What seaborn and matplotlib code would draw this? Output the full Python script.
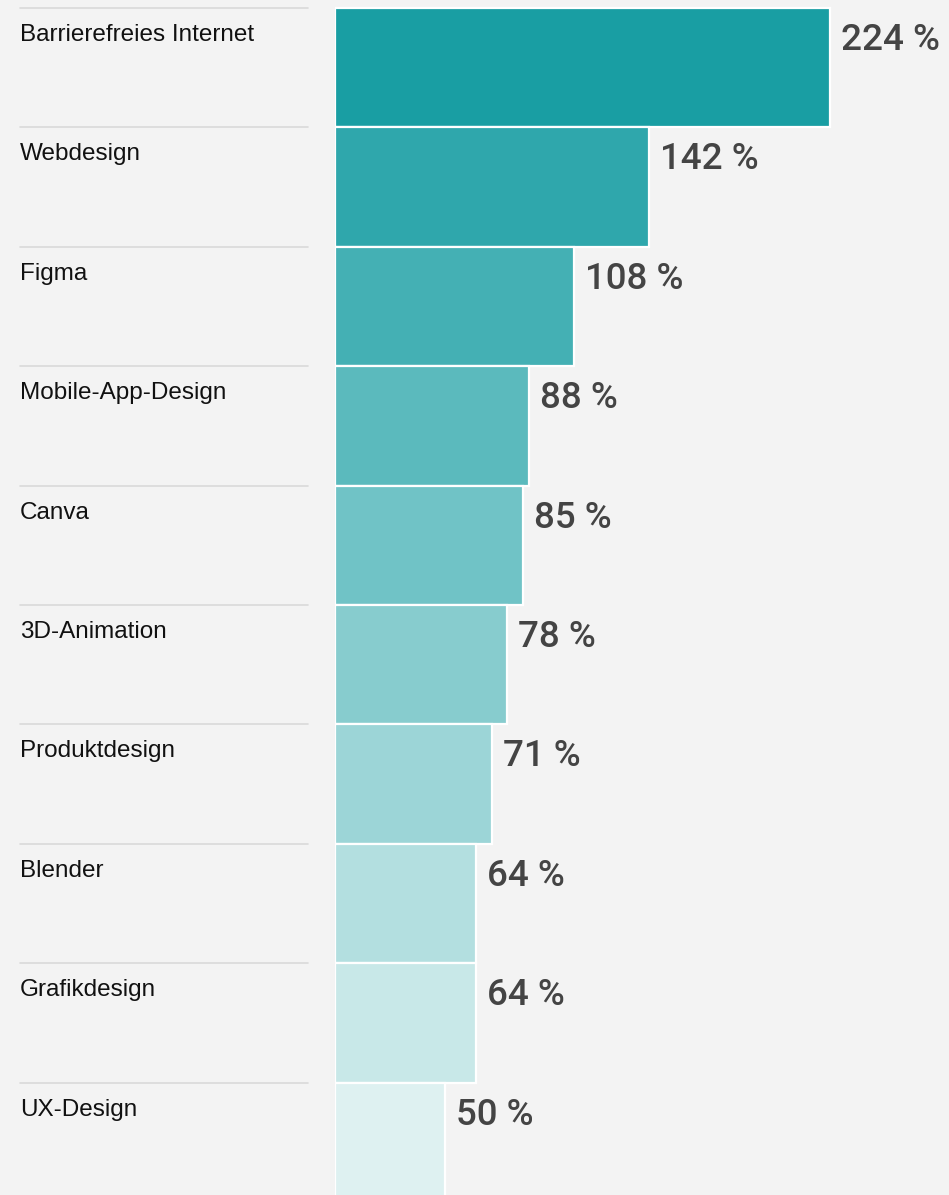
import matplotlib
matplotlib.use("Agg")
import matplotlib.pyplot as plt
import matplotlib.transforms as mtransforms
import seaborn as sns

labels = ["Barrierefreies Internet", "Webdesign", "Figma", "Mobile-App-Design",
          "Canva", "3D-Animation", "Produktdesign", "Blender", "Grafikdesign",
          "UX-Design"]
values = [224, 142, 108, 88, 85, 78, 71, 64, 64, 50]
value_text = [f"{v} %" for v in values]

bg = "#f3f3f3"
colors = sns.blend_palette(["#199ea3", "#def1f1"], n_colors=len(values))

sns.set_style("white")
plt.rcParams["font.family"] = ["Liberation Sans", "DejaVu Sans"]

W, H = 949, 1195
fig = plt.figure(figsize=(W / 100, H / 100), dpi=100, facecolor=bg)
ax = fig.add_axes([335 / W, 0, (W - 335) / W, 1])
ax.set_facecolor(bg)

sns.barplot(x=values, y=labels, hue=labels, palette=colors, legend=False,
            orient="h", width=1.0, saturation=1, edgecolor="white",
            linewidth=1.6, ax=ax)

# pixel geometry of the rows
row_px = 119.4
top_px = 8
px_per_unit = 495 / 224
ax.set_xlim(0, (W - 335) / px_per_unit)
ax.set_ylim(-0.5 + (H - top_px) / row_px, -0.5 - top_px / row_px)
ax.set_axis_off()

trans = mtransforms.blended_transform_factory(fig.transFigure, ax.transData)
for i, (lab, txt, v) in enumerate(zip(labels, value_text, values)):
    row_top = i - 0.5
    ax.plot([20 / W, 308 / W], [row_top, row_top], transform=trans,
            color="#d9d9d9", lw=1.2, clip_on=False)
    ax.text(20 / W, row_top + 33 / row_px, lab, transform=trans,
            fontsize=17.5, color="#111111", va="baseline", ha="left")
    ax.text(v + 11 / px_per_unit, row_top + 42 / row_px, txt,
            family=["Roboto", "DejaVu Sans"], fontsize=26.5,
            fontweight="medium", color="#444444",
            va="baseline", ha="left")

fig.savefig("out.png", dpi=100, facecolor=bg)
